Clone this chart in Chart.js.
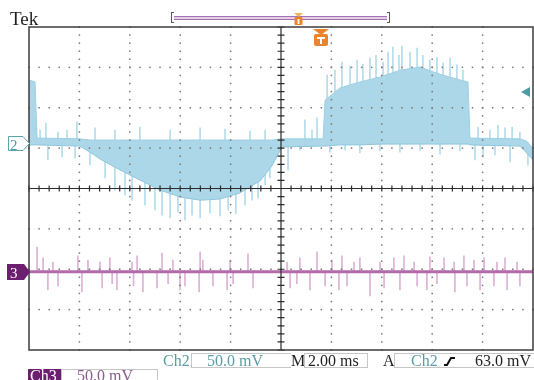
<!DOCTYPE html>
<html>
<head>
<meta charset="utf-8">
<script src="https://cdn.jsdelivr.net/npm/chart.js@4.4.0/dist/chart.umd.min.js"></script>
<style>
  html, body { margin: 0; padding: 0; background: #fff; }
  #wrap { position: relative; width: 534px; height: 380px; overflow: hidden; font-family: "Liberation Serif", "DejaVu Serif", serif; }
  #wrap canvas { position: absolute; left: 0; top: 0; }
  .t { position: absolute; white-space: pre; line-height: 16px; font-size: 16px; }
  .box { position: absolute; border: 1px solid #c6c6c6; box-sizing: border-box; }
  svg { position: absolute; overflow: visible; }
</style>
</head>
<body>
<div id="wrap">
  <canvas id="scope" width="534" height="380"></canvas>

  <div class="t" style="left:10px;top:9px;font-size:19px;line-height:19px;color:#1e1e1e">Tek</div>

  <!-- record bar with trigger marker -->
  <div style="position:absolute;left:174px;top:16px;width:213px;height:4px;box-sizing:border-box;border-top:1px solid #a472b2;border-bottom:1px solid #a472b2;background:#e4cde9"></div>
  <div style="position:absolute;left:171px;top:12px;width:3px;height:11px;box-sizing:border-box;border:1px solid #555;border-right:none"></div>
  <div style="position:absolute;left:387px;top:12px;width:3px;height:11px;box-sizing:border-box;border:1px solid #555;border-left:none"></div>
  <svg style="left:294px;top:13px" width="9" height="12">
    <polygon points="0,0 9,0 4.5,4" fill="#f0b060"/>
    <rect x="0.5" y="4" width="8" height="8" rx="1" fill="#e9842c"/>
    <rect x="3.6" y="6" width="1.8" height="5" fill="#fff"/>
  </svg>
  <svg style="left:313px;top:29px" width="16" height="17">
    <polygon points="0,0 16,0 8,6" fill="#e9842c"/>
    <rect x="1" y="5" width="14" height="12" rx="2" fill="#e9842c"/>
    <rect x="4" y="8" width="8" height="2" fill="#fff"/>
    <rect x="7" y="8" width="2" height="7" fill="#fff"/>
  </svg>

  <!-- trigger level arrow -->
  <svg style="left:521px;top:87px" width="10" height="10">
    <polygon points="0,5 9,0 9,10" fill="#4e9ca2"/>
  </svg>

  <!-- channel ground markers -->
  <svg style="left:8px;top:136px" width="23" height="16">
    <polygon points="0.5,0.5 15,0.5 21.5,7.5 15,14.5 0.5,14.5" fill="#fff" stroke="#5aa5ab" stroke-width="1"/>
  </svg>
  <div class="t" style="left:10px;top:137px;font-size:15px;color:#4f9aa0">2</div>
  <svg style="left:7px;top:264px" width="24" height="16">
    <polygon points="0,0 17,0 23,8 17,16 0,16" fill="#6c1f6f"/>
  </svg>
  <div class="t" style="left:10px;top:265px;font-size:15px;color:#fff">3</div>

  <!-- readouts -->
  <div class="t" style="left:163px;top:353px;color:#5a9ea4">Ch2</div>
  <div class="box" style="left:191px;top:353px;width:100px;height:15px;border-right:none"></div>
  <div class="t" style="left:207px;top:353px;color:#5a9ea4">50.0 mV</div>
  <div class="t" style="left:291px;top:353px;color:#1e1e1e">M</div>
  <div class="box" style="left:304px;top:353px;width:64px;height:15px"></div>
  <div class="t" style="left:308px;top:353px;color:#1e1e1e">2.00 ms</div>
  <div class="t" style="left:383px;top:353px;color:#1e1e1e">A</div>
  <div class="box" style="left:394px;top:353px;width:145px;height:15px"></div>
  <div class="t" style="left:411px;top:353px;color:#5a9ea4">Ch2</div>
  <svg style="left:444px;top:357px" width="11" height="9">
    <path d="M0,8 L3,8 L7,1 L11,1" fill="none" stroke="#111" stroke-width="2"/>
  </svg>
  <div class="t" style="left:475px;top:353px;color:#1e1e1e">63.0 mV</div>

  <div style="position:absolute;left:28px;top:369px;width:33px;height:14px;background:#6c1f6f"></div>
  <div class="t" style="left:30px;top:368px;color:#fff">Ch3</div>
  <div class="box" style="left:61px;top:369px;width:97px;height:20px"></div>
  <div class="t" style="left:77px;top:368px;color:#8a5a8c">50.0 mV</div>
</div>

<script>
// horizontal: ms (2 ms/div), vertical: screen divisions
const xTicks = [-10, -8, -6, -4, -2, 0, 2, 4, 6, 8, 10];
const yTicks = [-4, -3, -2, -1, 0, 1, 2, 3, 4];

// Ch2 envelope of the dense trace
const ch2Time  = [-10, -9.76, -9.68, -7.98, -7.58, -7.18, -6.39, -5.6, -4.8, -4.0, -3.21, -2.42, -1.63, -0.83, -0.36, 0.04, 1.67, 1.75, 2.34, 3.13, 3.93, 4.72, 5.52, 6.31, 7.1, 7.42, 7.5, 9.48, 9.72, 10];
const ch2Upper = [2.69, 2.64, 1.25, 1.23, 1.20, 1.20, 1.20, 1.20, 1.20, 1.20, 1.20, 1.20, 1.20, 1.20, 1.20, 1.23, 1.23, 2.19, 2.49, 2.64, 2.76, 2.93, 3.01, 2.83, 2.69, 2.64, 1.25, 1.23, 1.18, 1.00];
const ch2Lower = [1.08, 1.08, 1.08, 1.05, 0.90, 0.73, 0.46, 0.21, -0.04, -0.21, -0.29, -0.26, -0.11, 0.19, 0.56, 1.03, 1.05, 1.05, 1.08, 1.08, 1.10, 1.10, 1.10, 1.10, 1.10, 1.10, 1.08, 1.05, 0.90, 0.71];

// Ch2 noise spikes (time, tip)
const ch2Level = 1.15;
const ch2SpikeTime = [-9.56, -9.33, -8.85, -8.49, -8.10, -7.38, -6.59, -5.60, -4.40, -3.21, -2.22, -1.23, -0.63, 0.95, 1.23, 1.43,
  1.83, 2.14, 2.42, 2.74, 3.02, 3.25, 3.53, 3.77, 4.05, 4.25, 4.44, 4.68, 4.80, 5.12, 5.40, 5.63, 5.91, 6.19, 6.43, 6.71, 6.98, 7.22,
  7.82, 8.29, 8.61, 8.89, 9.17, 9.48,
  -9.25, -8.69, -8.17, -7.58, -6.98, -6.59, -6.19, -5.91, -5.40, -5.00, -4.72, -4.40, -4.09, -3.81, -3.53, -3.21, -2.82, -2.42,
  -2.10, -1.79, -1.43, -1.15, -0.91, -0.63, -0.44, 0.28, 0.75, 1.94, 2.54, 3.13, 3.93, 4.72, 5.52, 6.31, 7.10, 7.70, 8.02, 8.49, 9.09, 9.80];
const ch2SpikeTip = [1.45, 1.62, 1.40, 1.45, 1.65, 1.50, 1.45, 1.52, 1.45, 1.50, 1.47, 1.42, 1.45, 1.70, 1.45, 1.75,
  2.81, 2.93, 3.13, 3.03, 3.18, 3.08, 3.23, 3.30, 3.13, 3.38, 3.50, 3.30, 3.53, 3.38, 3.48, 3.30, 3.18, 3.25, 3.11, 3.23, 3.06, 2.93,
  1.52, 1.45, 1.57, 1.50, 1.52, 1.40,
  0.71, 0.78, 0.75, 0.58, 0.26, -0.04, -0.16, -0.29, -0.41, -0.53, -0.66, -0.73, -0.58, -0.78, -0.66, -0.73, -0.61, -0.68,
  -0.53, -0.63, -0.41, -0.29, -0.24, 0.09, 0.26, 0.46, 0.95, 0.90, 0.95, 0.88, 0.93, 0.90, 0.95, 0.85, 0.93, 0.71, 0.78, 0.83, 0.66, 0.58];

// Ch3 trace and its spikes
const ch3Level = -2.06;
const ch3SpikeTime = [-9.68, -9.44, -9.05, -8.06, -7.66, -7.18, -6.79, -5.91, -5.71, -4.72, -4.29, -3.21, -3.10, -2.02, -1.31,
  0.24, 0.75, 1.43, 2.02, 2.42, 2.90, 3.13, 3.93, 4.48, 4.88, 5.28, 5.91, 6.47, 6.87, 7.26, 7.66, 8.06, 8.57, 8.89, 9.37,
  -9.25, -8.85, -7.90, -7.10, -6.70, -6.51, -5.85, -5.48, -4.92, -4.48, -4.01, -3.81, -3.25, -2.70, -2.14, -1.90, -1.11,
  0.36, 0.63, 1.15, 1.75, 2.30, 2.62, 3.53, 4.09, 4.72, 5.40, 5.79, 6.19, 6.90, 7.38, 7.90, 8.45, 8.97, 9.48];
const ch3SpikeTip = [-1.45, -1.72, -1.82, -1.67, -1.77, -1.82, -1.72, -1.82, -1.67, -1.60, -1.77, -1.57, -1.77, -1.77, -1.62,
  -1.82, -1.72, -1.57, -1.77, -1.67, -1.82, -1.72, -1.82, -1.72, -1.67, -1.82, -1.69, -1.72, -1.82, -1.67, -1.77, -1.72, -1.82, -1.72, -1.82,
  -2.51, -2.41, -2.56, -2.46, -2.36, -2.51, -2.41, -2.56, -2.46, -2.36, -2.51, -2.41, -2.56, -2.41, -2.51, -2.36, -2.46,
  -2.46, -2.36, -2.51, -2.41, -2.51, -2.41, -2.66, -2.46, -2.51, -2.41, -2.51, -2.36, -2.56, -2.41, -2.51, -2.41, -2.51, -2.41];

// graticule: dotted divisions, centre cross with minor ticks, frame
const scopeGrid = {
  id: 'scopeGrid',
  afterDatasetsDraw(chart) {
    const { ctx, chartArea: a, scales } = chart;
    const xs = scales.x, ys = scales.y;
    const minors = (ticks) => {
      const out = [];
      for (let i = 0; i < ticks.length - 1; i++) {
        for (let k = 0; k < 5; k++) out.push(ticks[i] + (ticks[i + 1] - ticks[i]) * k / 5);
      }
      out.push(ticks[ticks.length - 1]);
      return out;
    };
    const xm = minors(xTicks), ym = minors(yTicks);
    ctx.save();
    ctx.fillStyle = '#777';
    yTicks.slice(1, -1).forEach(v => {
      if (v === 0) return;
      const py = ys.getPixelForValue(v);
      xm.forEach(t => ctx.fillRect(xs.getPixelForValue(t) - 0.75, py - 0.75, 1.5, 1.5));
    });
    xTicks.slice(1, -1).forEach(t => {
      if (t === 0) return;
      const px = xs.getPixelForValue(t);
      ym.forEach(v => ctx.fillRect(px - 0.75, ys.getPixelForValue(v) - 0.75, 1.5, 1.5));
    });
    const cx = xs.getPixelForValue(0), cy = ys.getPixelForValue(0);
    ctx.strokeStyle = '#2b2b2b';
    ctx.lineWidth = 1.2;
    ctx.beginPath();
    ctx.moveTo(a.left, cy); ctx.lineTo(a.right, cy);
    ctx.moveTo(cx, a.top); ctx.lineTo(cx, a.bottom);
    xm.forEach(t => { const px = xs.getPixelForValue(t); ctx.moveTo(px, cy - 3); ctx.lineTo(px, cy + 3); });
    ym.forEach(v => { const py = ys.getPixelForValue(v); ctx.moveTo(cx - 3.5, py); ctx.lineTo(cx + 3.5, py); });
    ctx.stroke();
    ctx.lineWidth = 1.5;
    ctx.strokeStyle = '#3c3c3c';
    ctx.strokeRect(a.left, a.top, a.right - a.left, a.bottom - a.top);
    ctx.restore();
  }
};

const pts = (xsArr, ysArr) => xsArr.map((x, i) => ({ x: x, y: ysArr[i] }));
const spikes = (xsArr, tips, level) => xsArr.map((x, i) => ({ x: x, y: [level, tips[i]] }));

new Chart(document.getElementById('scope'), {
  type: 'line',
  data: {
    datasets: [
      {
        label: 'Ch2 low',
        data: pts(ch2Time, ch2Lower),
        borderColor: '#8fc6dc',
        borderWidth: 1,
        fill: false,
        order: 2
      },
      {
        label: 'Ch2 high',
        data: pts(ch2Time, ch2Upper),
        borderColor: '#9fd0e3',
        borderWidth: 1,
        backgroundColor: '#abd7e8',
        fill: '-1',
        order: 2
      },
      {
        type: 'bar',
        label: 'Ch2 spikes',
        data: spikes(ch2SpikeTime, ch2SpikeTip, ch2Level),
        backgroundColor: '#b4dcec',
        barThickness: 1,
        grouped: false,
        order: 3
      },
      {
        type: 'bar',
        label: 'Ch3 spikes',
        data: spikes(ch3SpikeTime, ch3SpikeTip, ch3Level),
        backgroundColor: '#dcb2d5',
        barThickness: 1,
        grouped: false,
        order: 1
      },
      {
        label: 'Ch3',
        data: pts([-10, 10], [ch3Level, ch3Level]),
        borderColor: '#b26aa9',
        borderWidth: 3,
        fill: false,
        order: 0
      }
    ]
  },
  options: {
    responsive: false,
    animation: false,
    layout: { padding: { left: 29, right: 1, top: 27, bottom: 30 } },
    plugins: { legend: { display: false }, tooltip: { enabled: false } },
    elements: { point: { radius: 0 }, line: { tension: 0 } },
    scales: {
      x: { type: 'linear', min: -10, max: 10, offset: false, display: false },
      y: { type: 'linear', min: -4, max: 4, display: false }
    }
  },
  plugins: [scopeGrid]
});
</script>
</body>
</html>
